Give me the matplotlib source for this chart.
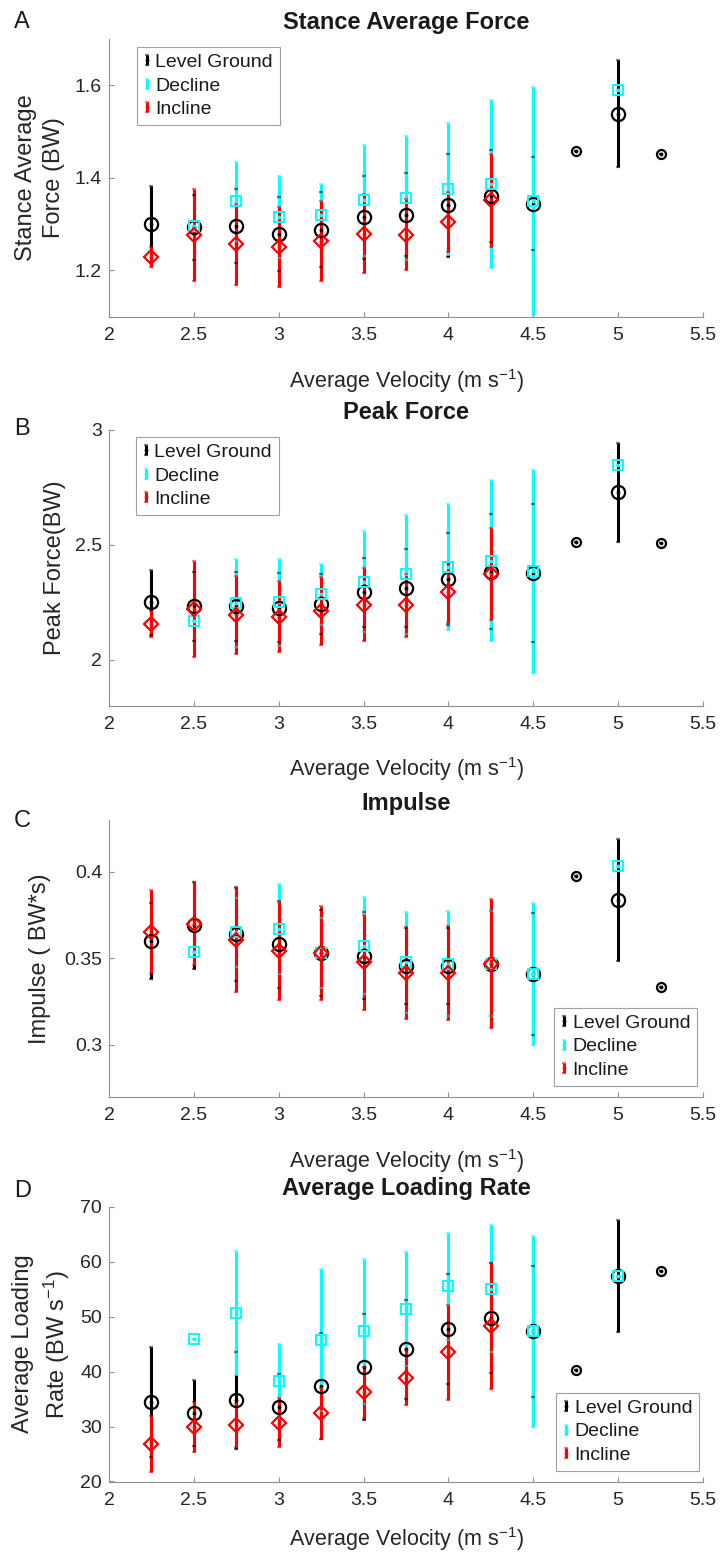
import numpy as np
import matplotlib
matplotlib.use("Agg")
import matplotlib.pyplot as plt
from matplotlib.legend_handler import HandlerErrorbar
from matplotlib.container import ErrorbarContainer

plt.rcParams['font.family'] = ['Liberation Sans', 'DejaVu Sans']
plt.rcParams['mathtext.fontset'] = 'custom'
plt.rcParams['mathtext.rm'] = 'Liberation Sans'
plt.rcParams['mathtext.it'] = 'Liberation Sans:italic'
plt.rcParams['mathtext.bf'] = 'Liberation Sans:bold'

# ---- speeds (m/s) for each condition ----
level_speed = [2.25, 2.5, 2.75, 3.0, 3.25, 3.5, 3.75, 4.0, 4.25, 4.5, 4.75, 5.0, 5.25]
decline_speed = [2.5, 2.75, 3.0, 3.25, 3.5, 3.75, 4.0, 4.25, 4.5, 5.0]
incline_speed = [2.25, 2.5, 2.75, 3.0, 3.25, 3.5, 3.75, 4.0, 4.25]

# ---- A: stance average force (BW) ----
saf_level = [1.299, 1.293, 1.295, 1.279, 1.288, 1.314, 1.320, 1.340, 1.360, 1.344, 1.457, 1.538, 1.450]
saf_level_sd = [0.084, 0.07, 0.08, 0.08, 0.08, 0.09, 0.09, 0.111, 0.10, 0.10, 0.0, 0.116, 0.0]
saf_decline = [1.295, 1.349, 1.315, 1.319, 1.351, 1.356, 1.375, 1.386, 1.349, 1.590]
saf_decline_sd = [0.0, 0.085, 0.088, 0.068, 0.12, 0.134, 0.143, 0.181, 0.246, 0.0]
saf_incline = [1.229, 1.276, 1.256, 1.250, 1.263, 1.279, 1.277, 1.304, 1.351]
saf_incline_sd = [0.022, 0.10, 0.088, 0.086, 0.086, 0.085, 0.077, 0.065, 0.101]

# ---- B: peak force (BW) ----
pk_level = [2.249, 2.232, 2.232, 2.225, 2.243, 2.293, 2.312, 2.348, 2.381, 2.374, 2.512, 2.727, 2.507]
pk_level_sd = [0.142, 0.15, 0.15, 0.15, 0.13, 0.15, 0.17, 0.20, 0.25, 0.30, 0.0, 0.216, 0.0]
pk_decline = [2.167, 2.246, 2.249, 2.283, 2.338, 2.370, 2.403, 2.430, 2.384, 2.845]
pk_decline_sd = [0.0, 0.19, 0.19, 0.134, 0.22, 0.257, 0.273, 0.35, 0.442, 0.0]
pk_incline = [2.155, 2.220, 2.193, 2.186, 2.210, 2.239, 2.235, 2.293, 2.370]
pk_incline_sd = [0.055, 0.207, 0.168, 0.155, 0.149, 0.16, 0.135, 0.133, 0.20]

# ---- C: impulse (BW*s) ----
imp_level = [0.360, 0.369, 0.364, 0.358, 0.353, 0.3515, 0.3457, 0.3457, 0.347, 0.341, 0.3976, 0.3836, 0.3333]
imp_level_sd = [0.022, 0.025, 0.027, 0.025, 0.025, 0.025, 0.022, 0.022, 0.03, 0.035, 0.0, 0.035, 0.0]
imp_decline = [0.3538, 0.365, 0.3667, 0.353, 0.3573, 0.3477, 0.347, 0.347, 0.341, 0.4032]
imp_decline_sd = [0.0, 0.02, 0.026, 0.02, 0.028, 0.029, 0.03, 0.03, 0.041, 0.0]
imp_incline = [0.3653, 0.370, 0.3606, 0.3542, 0.3529, 0.3477, 0.3417, 0.3417, 0.347]
imp_incline_sd = [0.024, 0.024, 0.03, 0.0285, 0.027, 0.0275, 0.0266, 0.027, 0.037]

# ---- D: average loading rate (BW/s) ----
alr_level = [34.5, 32.4, 34.8, 33.6, 37.4, 40.8, 44.1, 47.8, 49.8, 47.3, 40.2, 57.35, 58.3]
alr_level_sd = [10.0, 6.0, 8.8, 6.0, 9.6, 9.6, 9.0, 10.0, 10.0, 12.0, 0.0, 10.2, 0.0]
alr_decline = [46.0, 50.7, 38.3, 45.8, 47.3, 51.4, 55.5, 55.1, 47.3, 57.3]
alr_decline_sd = [0.0, 11.3, 6.7, 12.9, 13.2, 10.4, 9.7, 11.5, 17.3, 0.0]
alr_incline = [26.9, 29.9, 30.2, 30.7, 32.4, 36.2, 38.9, 43.5, 48.3]
alr_incline_sd = [5.1, 4.6, 4.0, 4.5, 4.6, 4.7, 5.0, 8.7, 11.4]

x_ticks = [2, 2.5, 3, 3.5, 4, 4.5, 5, 5.5]
x_tick_labels = ['2', '2.5', '3', '3.5', '4', '4.5', '5', '5.5']
series_names = ['Level Ground', 'Decline', 'Incline']

panels = [
    dict(letter='A', title='Stance Average Force', ylabel='Stance Average\nForce (BW)',
         data=(saf_level, saf_level_sd, saf_decline, saf_decline_sd, saf_incline, saf_incline_sd),
         ylim=(1.1, 1.7), yticks=[1.2, 1.4, 1.6], yticklabels=['1.2', '1.4', '1.6']),
    dict(letter='B', title='Peak Force', ylabel='Peak Force(BW)',
         data=(pk_level, pk_level_sd, pk_decline, pk_decline_sd, pk_incline, pk_incline_sd),
         ylim=(1.8, 3.0), yticks=[2, 2.5, 3], yticklabels=['2', '2.5', '3']),
    dict(letter='C', title='Impulse', ylabel='Impulse ( BW*s)',
         data=(imp_level, imp_level_sd, imp_decline, imp_decline_sd, imp_incline, imp_incline_sd),
         ylim=(0.27, 0.43), yticks=[0.3, 0.35, 0.4], yticklabels=['0.3', '0.35', '0.4']),
    dict(letter='D', title='Average Loading Rate', ylabel='Average Loading\nRate (BW s$^{-1}$)',
         data=(alr_level, alr_level_sd, alr_decline, alr_decline_sd, alr_incline, alr_incline_sd),
         ylim=(20, 70), yticks=[20, 30, 40, 50, 60, 70],
         yticklabels=['20', '30', '40', '50', '60', '70']),
]

# ---- layout in pixels (figure is 724 x 1555 at 100 dpi) ----
W, H = 724, 1555
fig = plt.figure(figsize=(W / 100, H / 100), dpi=100)
ax_left, ax_right = 109, 703
ax_rows = [(38.7, 316.6), (429.5, 705.5), (819.6, 1097.0), (1206.7, 1481.5)]
title_base = [29, 419, 810, 1195]
letter_base = [28, 435, 827, 1197]
ylabel_x = [40, 55, 40, 42]
xlabel_gap = [64, 64, 64, 58]
legend_boxes = [('upper left', 136.7, 46.7), ('upper left', 136.0, 436.7),
                ('lower right', 697.0, 1085.7), ('lower right', 699.0, 1470.7)]

AX_GREY = '#8f8f8f'
COL = {'level': 'black', 'decline': '#00ffff', 'incline': '#ff0000'}

for i, p in enumerate(panels):
    top, bot = ax_rows[i]
    ax = fig.add_axes([ax_left / W, 1 - bot / H, (ax_right - ax_left) / W, (bot - top) / H])
    lv, lv_sd, dc, dc_sd, ic, ic_sd = p['data']

    containers = []
    caps = []
    for xs, ys, sd, c in [(level_speed, lv, lv_sd, COL['level']),
                          (decline_speed, dc, dc_sd, COL['decline']),
                          (incline_speed, ic, ic_sd, COL['incline'])]:
        eb = ax.errorbar(xs, ys, yerr=sd, fmt='.', color=c, ms=3.5, lw=2.2,
                         elinewidth=2.2, capsize=1.2, capthick=1.6, zorder=2)
        containers.append(eb)
        caps.extend(eb[1])
    for cl in caps:
        cl.set_zorder(3.5)
        cl.set_alpha(0.5)

    # hollow condition markers; single-trial level-ground speeds use a smaller circle
    lv_arr = np.array(lv)
    single = np.array(lv_sd) == 0
    ax.plot(np.array(level_speed)[~single], lv_arr[~single], 'o', ms=9.5, mfc='none',
            mec=COL['level'], mew=1.6, zorder=4)
    ax.plot(np.array(level_speed)[single], lv_arr[single], 'o', ms=6.5, mfc='none',
            mec=COL['level'], mew=1.6, zorder=4)
    ax.plot(decline_speed, dc, 's', ms=7, mfc='none', mec=COL['decline'], mew=1.4, zorder=5)
    ax.plot(incline_speed, ic, 'D', ms=7, mfc='none', mec=COL['incline'], mew=1.6, zorder=6)

    ax.set_xlim(2, 5.5)
    ax.set_ylim(*p['ylim'])
    ax.set_xticks(x_ticks)
    ax.set_xticklabels(x_tick_labels)
    ax.set_yticks(p['yticks'])
    ax.set_yticklabels(p['yticklabels'])
    for s in ['top', 'right']:
        ax.spines[s].set_visible(False)
    for s in ['left', 'bottom']:
        ax.spines[s].set_color(AX_GREY)
        ax.spines[s].set_linewidth(0.8)
    ax.tick_params(direction='in', length=3.5, width=0.8, color=AX_GREY,
                   labelcolor='#262626', labelsize=14)
    ax.tick_params(axis='x', pad=7.5)
    ax.tick_params(axis='y', pad=5)

    ax.set_xlabel('Average Velocity (m s$^{-1}$)', fontsize=15.5, color='#262626')
    ax.xaxis.set_label_coords(0.5, -xlabel_gap[i] / (bot - top))
    ax.xaxis.label.set_verticalalignment('center')

    ax.set_ylabel(p['ylabel'], fontsize=17, color='#262626', linespacing=1.35)
    ax.yaxis.set_label_coords((ylabel_x[i] - ax_left) / (ax_right - ax_left), 0.5)
    ax.yaxis.label.set_verticalalignment('center')
    ax.yaxis.label.set_horizontalalignment('center')

    fig.text(406 / W, 1 - title_base[i] / H, p['title'], ha='center', va='baseline',
             fontsize=17, fontweight='bold', color='#1a1a1a')
    fig.text(14 / W, 1 - letter_base[i] / H, p['letter'], ha='left', va='baseline',
             fontsize=17, color='#1a1a1a')

    loc, lx, ly = legend_boxes[i]
    leg = ax.legend(containers, series_names, loc=loc,
                    bbox_to_anchor=(lx / W, 1 - ly / H), bbox_transform=fig.transFigure,
                    borderaxespad=0, fontsize=14, handlelength=0.35, handletextpad=0.25,
                    borderpad=0.35, labelspacing=0.3, fancybox=False, framealpha=1,
                    edgecolor='#a0a0a0',
                    handler_map={ErrorbarContainer: HandlerErrorbar(yerr_size=0.25)})
    leg.get_frame().set_linewidth(0.8)
    for t in leg.get_texts():
        t.set_color('#1a1a1a')

fig.savefig('out.png', dpi=100)
